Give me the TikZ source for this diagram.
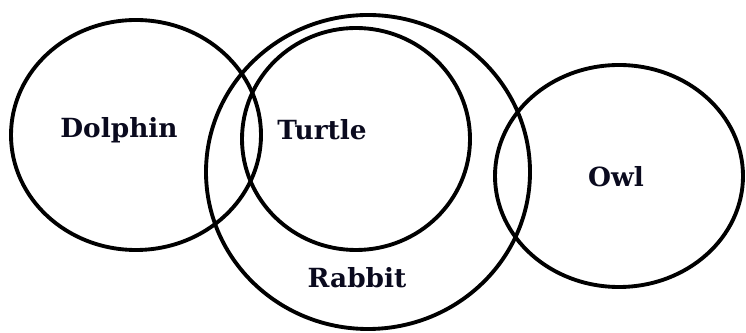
\documentclass[tikz,border=0pt]{standalone}
\usepackage{fontspec}
\setmainfont{DejaVu Serif}
\usepackage{tikz}
\usetikzlibrary{calc}
\definecolor{vennline}{RGB}{0,0,0}
\definecolor{venntext}{RGB}{10,10,30}

\begin{document}
\begin{tikzpicture}[x=0.02cm,y=-0.02cm,
    ring/.style={draw=vennline,line width=2.2pt},
    animal/.style={text=venntext,font=\fontsize{15}{18}\selectfont\bfseries,inner sep=0pt}]
  \useasboundingbox (0,0) rectangle (746,333);
  % the four sets
  \draw[ring] (136,135) ellipse [x radius=125,y radius=115];
  \draw[ring] (368,172) ellipse [x radius=162,y radius=157];
  \draw[ring] (356,139) ellipse [x radius=114,y radius=111];
  \draw[ring] (619,176) ellipse [x radius=124,y radius=111];
  % labels
  \node[animal] (dolphin) at (119,130) {Dolphin};
  \node[animal] (turtle) at (322,130) {Turtle};
  \node[animal] (rabbit) at (357,278) {Rabbit};
  \node[animal] (owl) at (616,177) {Owl};
\end{tikzpicture}
\end{document}
